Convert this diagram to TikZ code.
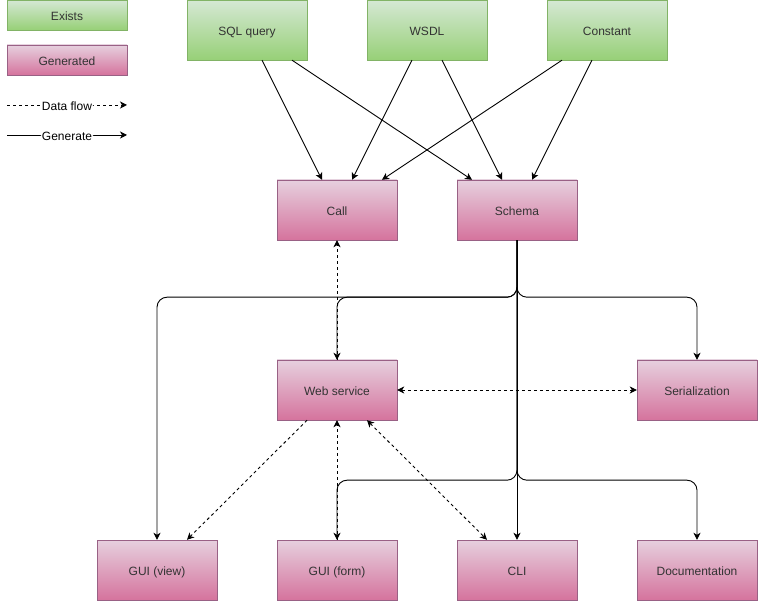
\documentclass[tikz,border=0pt]{standalone}
\usepackage{fontspec}
\setmainfont{Liberation Sans}
\usepackage{tikz}
\usetikzlibrary{arrows.meta}

\definecolor{greenTop}{HTML}{D5E8D4}
\definecolor{greenBot}{HTML}{97D077}
\definecolor{greenLine}{HTML}{82B366}
\definecolor{pinkTop}{HTML}{E6D0DE}
\definecolor{pinkBot}{HTML}{D5739D}
\definecolor{pinkLine}{HTML}{996185}
\definecolor{txt}{HTML}{333333}

\begin{document}
\begin{tikzpicture}[x=1pt,y=-1pt,
	every node/.style={font=\fontsize{12}{14}\selectfont,text=txt,text height=11pt,text depth=0pt},
	existbox/.style={draw=greenLine,top color=greenTop,bottom color=greenBot,minimum width=120pt,minimum height=60pt,inner sep=0pt},
	genbox/.style={draw=pinkLine,top color=pinkTop,bottom color=pinkBot,minimum width=120pt,minimum height=60pt,inner sep=0pt},
	gen/.style={line width=0.9pt,rounded corners=10pt,-{Stealth[length=7pt,width=7pt,inset=2pt]}},
	flow/.style={gen,dash pattern=on 3pt off 3pt},
	biflow/.style={flow,{Stealth[length=7pt,width=7pt,inset=2pt]}-{Stealth[length=7pt,width=7pt,inset=2pt]}},
	lbl/.style={fill=white,inner sep=1pt,text=black}]
    \useasboundingbox (0,0) rectangle (758,601);

    % legend
    \node[existbox,minimum height=30pt] (leg-ex) at (67,15) {Exists};
    \node[genbox,minimum height=30pt] (leg-gen) at (67,60) {Generated};
    \coordinate (df-a) at (7,105);
    \coordinate (df-b) at (127,105);
    \coordinate (gn-a) at (7,135);
    \coordinate (gn-b) at (127,135);
    \draw[flow] (df-a) -- node[lbl] {Data flow} (df-b);
    \draw[gen] (gn-a) -- node[lbl] {Generate} (gn-b);

    % sources
    \node[existbox] (sql) at (247,30) {SQL query};
    \node[existbox] (wsdl) at (427,30) {WSDL};
    \node[existbox] (const) at (607,30) {Constant};

    % generated
    \node[genbox] (call) at (337,210) {Call};
    \node[genbox] (schema) at (517,210) {Schema};
    \node[genbox] (web) at (337,390) {Web service};
    \node[genbox] (serial) at (697,390) {Serialization};
    \node[genbox] (view) at (157,570) {GUI (view)};
    \node[genbox] (form) at (337,570) {GUI (form)};
    \node[genbox] (cli) at (517,570) {CLI};
    \node[genbox] (doc) at (697,570) {Documentation};

    \draw[gen] ([xshift=15]sql.south) -- ([xshift=-15]call.north);
    \draw[gen] ([xshift=45]sql.south) -- ([xshift=-45]schema.north);
    \draw[gen] ([xshift=-15]wsdl.south) -- ([xshift=15]call.north);
    \draw[gen] ([xshift=15]wsdl.south) -- ([xshift=-15]schema.north);
    \draw[gen] ([xshift=-45]const.south) -- ([xshift=45]call.north);
    \draw[gen] ([xshift=-15]const.south) -- ([xshift=15]schema.north);

    % schema outputs
    \draw[gen] (schema.south) -- ++(0,57) -| (view.north);
    \draw[gen] (schema.south) -- ++(0,57) -| (web.north);
    \draw[gen] (schema.south) -- ++(0,57) -| (serial.north);
    \draw[gen] (schema.south) -- ++(0,240) -| (form.north);
    \draw[gen] (schema.south) -- (cli.north);
    \draw[gen] (schema.south) -- ++(0,240) -| (doc.north);

    % data flow
    \draw[flow] (web.north) -- (call.south);
    \draw[biflow] (web.east) -- (serial.west);
    \draw[flow] ([xshift=-30]web.south) -- ([xshift=30]view.north);
    \draw[flow] (form.north) -- (web.south);
    \draw[biflow] ([xshift=30]web.south) -- ([xshift=-30]cli.north);
\end{tikzpicture}
\end{document}
